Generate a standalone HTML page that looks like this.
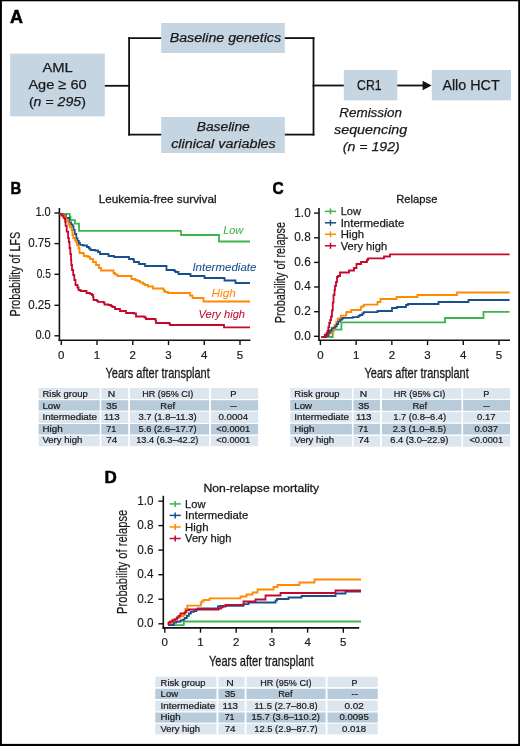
<!DOCTYPE html><html><head><meta charset="utf-8"><style>html,body{margin:0;padding:0;background:#fff;}svg{display:block;will-change:transform;}text{font-family:"Liberation Sans", sans-serif;}</style></head><body>
<svg width="520" height="746" viewBox="0 0 520 746">
<rect x="0.00" y="0.00" width="520.00" height="746.00" fill="#ffffff"/>
<text x="10.00" y="22.60" font-size="17.60" fill="#000" font-weight="bold" font-style="normal" stroke="#000" stroke-width="0.50" textLength="13.00" lengthAdjust="spacingAndGlyphs">A</text>
<rect x="10.20" y="53.60" width="94.60" height="62.70" fill="#c6d5e2"/>
<rect x="161.20" y="23.00" width="123.60" height="30.00" fill="#c6d5e2"/>
<rect x="161.20" y="117.00" width="123.60" height="36.00" fill="#c6d5e2"/>
<rect x="343.80" y="70.00" width="53.50" height="30.30" fill="#c6d5e2"/>
<rect x="431.80" y="70.00" width="79.20" height="30.30" fill="#c6d5e2"/>
<line x1="104.80" y1="85.80" x2="129.10" y2="85.80" stroke="#111" stroke-width="1.80"/>
<line x1="129.10" y1="37.20" x2="129.10" y2="135.50" stroke="#111" stroke-width="1.80"/>
<line x1="128.20" y1="38.10" x2="161.20" y2="38.10" stroke="#111" stroke-width="1.80"/>
<line x1="128.20" y1="134.60" x2="161.20" y2="134.60" stroke="#111" stroke-width="1.80"/>
<line x1="284.80" y1="38.10" x2="314.40" y2="38.10" stroke="#111" stroke-width="1.80"/>
<line x1="284.80" y1="134.60" x2="314.40" y2="134.60" stroke="#111" stroke-width="1.80"/>
<line x1="313.50" y1="37.20" x2="313.50" y2="135.50" stroke="#111" stroke-width="1.80"/>
<line x1="312.60" y1="85.50" x2="343.80" y2="85.50" stroke="#111" stroke-width="1.80"/>
<line x1="397.30" y1="85.50" x2="424.00" y2="85.50" stroke="#111" stroke-width="1.80"/>
<path d="M422.6,80.8 L431.6,85.5 L422.6,90.2 Z" fill="#111"/>
<text x="42.40" y="72.20" font-size="13.70" fill="#1a1a1a" font-weight="normal" font-style="normal" stroke="#1a1a1a" stroke-width="0.25" textLength="30.40" lengthAdjust="spacingAndGlyphs">AML</text>
<text x="28.40" y="89.40" font-size="13.70" fill="#1a1a1a" font-weight="normal" font-style="normal" stroke="#1a1a1a" stroke-width="0.25" textLength="58.20" lengthAdjust="spacingAndGlyphs">Age ≥ 60</text>
<text x="28.9" y="105.8" font-size="13.7" stroke="#1a1a1a" stroke-width="0.25" fill="#1a1a1a" textLength="57" lengthAdjust="spacingAndGlyphs">(<tspan font-style="italic">n</tspan> = <tspan font-style="italic">295</tspan>)</text>
<text x="169.70" y="42.20" font-size="13.70" fill="#1a1a1a" font-weight="normal" font-style="italic" stroke="#1a1a1a" stroke-width="0.25" textLength="111.40" lengthAdjust="spacingAndGlyphs">Baseline genetics</text>
<text x="196.70" y="130.60" font-size="13.70" fill="#1a1a1a" font-weight="normal" font-style="italic" stroke="#1a1a1a" stroke-width="0.25" textLength="53.10" lengthAdjust="spacingAndGlyphs">Baseline</text>
<text x="171.20" y="147.50" font-size="13.70" fill="#1a1a1a" font-weight="normal" font-style="italic" stroke="#1a1a1a" stroke-width="0.25" textLength="104.60" lengthAdjust="spacingAndGlyphs">clinical variables</text>
<text x="357.00" y="89.50" font-size="14.30" fill="#1a1a1a" font-weight="normal" font-style="normal" stroke="#1a1a1a" stroke-width="0.25" textLength="24.60" lengthAdjust="spacingAndGlyphs">CR1</text>
<text x="442.40" y="89.50" font-size="14.30" fill="#1a1a1a" font-weight="normal" font-style="normal" stroke="#1a1a1a" stroke-width="0.25" textLength="57.30" lengthAdjust="spacingAndGlyphs">Allo HCT</text>
<text x="339.20" y="117.20" font-size="13.70" fill="#1a1a1a" font-weight="normal" font-style="italic" stroke="#1a1a1a" stroke-width="0.25" textLength="62.90" lengthAdjust="spacingAndGlyphs">Remission</text>
<text x="334.00" y="133.60" font-size="13.70" fill="#1a1a1a" font-weight="normal" font-style="italic" stroke="#1a1a1a" stroke-width="0.25" textLength="73.30" lengthAdjust="spacingAndGlyphs">sequencing</text>
<text x="342.8" y="151.2" font-size="13.7" stroke="#1a1a1a" stroke-width="0.25" fill="#1a1a1a" font-style="italic" textLength="57" lengthAdjust="spacingAndGlyphs">(n = 192)</text>
<text x="10.50" y="193.80" font-size="16.80" fill="#000" font-weight="bold" font-style="normal" stroke="#000" stroke-width="0.50" textLength="10.80" lengthAdjust="spacingAndGlyphs">B</text>
<text x="98.70" y="203.00" font-size="11.80" fill="#1a1a1a" font-weight="normal" font-style="normal" stroke="#1a1a1a" stroke-width="0.30" textLength="117.90" lengthAdjust="spacingAndGlyphs">Leukemia-free survival</text>
<line x1="59.40" y1="208.00" x2="59.40" y2="341.10" stroke="#111" stroke-width="1.60"/>
<line x1="54.50" y1="213.00" x2="59.40" y2="213.00" stroke="#111" stroke-width="1.40"/>
<line x1="54.50" y1="243.60" x2="59.40" y2="243.60" stroke="#111" stroke-width="1.40"/>
<line x1="54.50" y1="274.30" x2="59.40" y2="274.30" stroke="#111" stroke-width="1.40"/>
<line x1="54.50" y1="305.30" x2="59.40" y2="305.30" stroke="#111" stroke-width="1.40"/>
<line x1="54.50" y1="335.80" x2="59.40" y2="335.80" stroke="#111" stroke-width="1.40"/>
<line x1="58.60" y1="340.30" x2="250.50" y2="340.30" stroke="#111" stroke-width="1.60"/>
<line x1="61.30" y1="340.30" x2="61.30" y2="345.10" stroke="#111" stroke-width="1.40"/>
<line x1="97.04" y1="340.30" x2="97.04" y2="345.10" stroke="#111" stroke-width="1.40"/>
<line x1="132.78" y1="340.30" x2="132.78" y2="345.10" stroke="#111" stroke-width="1.40"/>
<line x1="168.52" y1="340.30" x2="168.52" y2="345.10" stroke="#111" stroke-width="1.40"/>
<line x1="204.26" y1="340.30" x2="204.26" y2="345.10" stroke="#111" stroke-width="1.40"/>
<line x1="240.00" y1="340.30" x2="240.00" y2="345.10" stroke="#111" stroke-width="1.40"/>
<text x="35.40" y="216.40" font-size="12.20" fill="#1a1a1a" font-weight="normal" font-style="normal" stroke="#1a1a1a" stroke-width="0.15" textLength="15.40" lengthAdjust="spacingAndGlyphs">1.0</text>
<text x="28.20" y="247.00" font-size="12.20" fill="#1a1a1a" font-weight="normal" font-style="normal" stroke="#1a1a1a" stroke-width="0.15" textLength="22.60" lengthAdjust="spacingAndGlyphs">0.75</text>
<text x="36.70" y="277.70" font-size="12.20" fill="#1a1a1a" font-weight="normal" font-style="normal" stroke="#1a1a1a" stroke-width="0.15" textLength="14.10" lengthAdjust="spacingAndGlyphs">0.5</text>
<text x="28.20" y="308.70" font-size="12.20" fill="#1a1a1a" font-weight="normal" font-style="normal" stroke="#1a1a1a" stroke-width="0.15" textLength="22.60" lengthAdjust="spacingAndGlyphs">0.25</text>
<text x="35.40" y="339.20" font-size="12.20" fill="#1a1a1a" font-weight="normal" font-style="normal" stroke="#1a1a1a" stroke-width="0.15" textLength="15.40" lengthAdjust="spacingAndGlyphs">0.0</text>
<text x="61.30" y="358.70" font-size="11.50" fill="#1a1a1a" text-anchor="middle" stroke="#1a1a1a" stroke-width="0.20">0</text>
<text x="97.04" y="358.70" font-size="11.50" fill="#1a1a1a" text-anchor="middle" stroke="#1a1a1a" stroke-width="0.20">1</text>
<text x="132.78" y="358.70" font-size="11.50" fill="#1a1a1a" text-anchor="middle" stroke="#1a1a1a" stroke-width="0.20">2</text>
<text x="168.52" y="358.70" font-size="11.50" fill="#1a1a1a" text-anchor="middle" stroke="#1a1a1a" stroke-width="0.20">3</text>
<text x="204.26" y="358.70" font-size="11.50" fill="#1a1a1a" text-anchor="middle" stroke="#1a1a1a" stroke-width="0.20">4</text>
<text x="240.00" y="358.70" font-size="11.50" fill="#1a1a1a" text-anchor="middle" stroke="#1a1a1a" stroke-width="0.20">5</text>
<text x="105.50" y="378.00" font-size="14.20" fill="#1a1a1a" font-weight="normal" font-style="normal" stroke="#1a1a1a" stroke-width="0.30" textLength="104.30" lengthAdjust="spacingAndGlyphs">Years after transplant</text>
<text transform="translate(20.10,316.50) rotate(-90)" x="0" y="0" font-size="14.20" fill="#1a1a1a" stroke="#1a1a1a" stroke-width="0.20" textLength="84.60" lengthAdjust="spacingAndGlyphs">Probability of LFS</text>
<path d="M59.80,213.80H69.80 V217.00H70.50 V220.20H75.00 V223.70H79.00 V230.90H181.00 V235.00H219.00 V241.50H250.00" fill="none" stroke="#3fb34f" stroke-width="1.80" />
<path d="M59.80,213.80H63.00 V215.50H66.00 V218.00H69.30 V222.40H71.00 V224.50H72.70 V226.50H73.50 V229.90H74.80 V234.00H76.30 V238.50H77.50 V241.00H78.80 V243.00H80.00 V244.80H83.00 V245.50H87.00 V247.00H89.00 V248.50H90.50 V250.00H95.00 V250.50H98.00 V252.00H100.00 V254.00H108.50 V256.00H114.00 V257.00H129.00 V259.00H133.50 V260.00H134.00 V262.00H139.00 V264.00H145.00 V266.00H166.50 V270.00H174.50 V271.00H175.50 V272.00H178.50 V274.00H190.50 V276.00H204.50 V278.00H224.50 V280.50H235.50 V283.00H250.00" fill="none" stroke="#17508c" stroke-width="1.80" />
<path d="M59.80,213.80H61.50 V214.50H63.50 V216.00H65.00 V218.00H66.00 V219.50H67.00 V221.00H68.40 V224.40H69.80 V227.00H71.60 V229.90H72.40 V235.10H73.30 V238.00H75.00 V240.00H76.00 V242.00H77.00 V245.00H78.50 V248.00H79.50 V253.00H83.50 V254.00H84.00 V256.00H88.00 V257.00H90.00 V259.00H93.00 V262.00H96.00 V265.00H99.00 V268.00H101.00 V270.50H113.50 V273.00H115.00 V274.50H117.50 V276.00H131.50 V279.00H135.00 V280.00H137.50 V281.00H140.00 V282.50H143.00 V284.00H145.00 V285.00H148.00 V286.50H153.00 V288.50H163.50 V290.50H165.00 V292.00H168.00 V293.00H190.00 V295.50H192.50 V298.00H203.50 V301.50H250.00" fill="none" stroke="#ff8a00" stroke-width="1.80" />
<path d="M59.80,213.80H61.50 V215.50H63.50 V217.80H64.90 V219.00H65.20 V222.00H65.60 V225.90H66.70 V231.70H68.10 V238.00H68.80 V242.00H69.50 V248.00H70.30 V254.00H71.00 V260.00H71.30 V265.00H72.00 V270.00H73.20 V275.00H74.30 V280.00H75.50 V285.00H77.50 V287.50H78.50 V290.00H80.50 V291.00H86.50 V293.00H90.00 V293.80H92.00 V295.00H93.00 V297.00H93.50 V300.00H97.00 V300.80H98.00 V301.80H103.50 V302.50H104.50 V304.50H108.50 V305.00H111.00 V306.00H112.50 V307.00H115.00 V309.00H120.00 V311.00H126.00 V313.00H134.00 V313.50H136.00 V316.50H144.50 V317.50H146.00 V319.00H155.50 V320.50H156.00 V323.00H169.50 V324.00H170.00 V325.00H224.00 V327.30H250.00" fill="none" stroke="#c30a2c" stroke-width="1.80" />
<text x="223.20" y="233.80" font-size="10.60" fill="#3fb34f" font-weight="normal" font-style="italic" stroke="#3fb34f" stroke-width="0.05" textLength="20.10" lengthAdjust="spacingAndGlyphs">Low</text>
<text x="192.40" y="270.80" font-size="10.60" fill="#17508c" font-weight="normal" font-style="italic" stroke="#17508c" stroke-width="0.05" textLength="64.00" lengthAdjust="spacingAndGlyphs">Intermediate</text>
<text x="211.60" y="297.00" font-size="10.60" fill="#ff8a00" font-weight="normal" font-style="italic" stroke="#ff8a00" stroke-width="0.05" textLength="24.20" lengthAdjust="spacingAndGlyphs">High</text>
<text x="198.50" y="318.40" font-size="10.60" fill="#c30a2c" font-weight="normal" font-style="italic" stroke="#c30a2c" stroke-width="0.05" textLength="46.50" lengthAdjust="spacingAndGlyphs">Very high</text>
<text x="272.50" y="193.60" font-size="17.20" fill="#000" font-weight="bold" font-style="normal" stroke="#000" stroke-width="0.50" textLength="11.20" lengthAdjust="spacingAndGlyphs">C</text>
<text x="396.20" y="202.90" font-size="11.80" fill="#1a1a1a" font-weight="normal" font-style="normal" stroke="#1a1a1a" stroke-width="0.30" textLength="41.20" lengthAdjust="spacingAndGlyphs">Relapse</text>
<line x1="319.00" y1="208.00" x2="319.00" y2="341.10" stroke="#111" stroke-width="1.60"/>
<line x1="314.10" y1="213.10" x2="319.00" y2="213.10" stroke="#111" stroke-width="1.40"/>
<line x1="314.10" y1="237.80" x2="319.00" y2="237.80" stroke="#111" stroke-width="1.40"/>
<line x1="314.10" y1="262.40" x2="319.00" y2="262.40" stroke="#111" stroke-width="1.40"/>
<line x1="314.10" y1="287.00" x2="319.00" y2="287.00" stroke="#111" stroke-width="1.40"/>
<line x1="314.10" y1="311.70" x2="319.00" y2="311.70" stroke="#111" stroke-width="1.40"/>
<line x1="314.10" y1="336.30" x2="319.00" y2="336.30" stroke="#111" stroke-width="1.40"/>
<line x1="318.20" y1="340.30" x2="510.00" y2="340.30" stroke="#111" stroke-width="1.60"/>
<line x1="320.40" y1="340.30" x2="320.40" y2="345.10" stroke="#111" stroke-width="1.40"/>
<line x1="356.12" y1="340.30" x2="356.12" y2="345.10" stroke="#111" stroke-width="1.40"/>
<line x1="391.84" y1="340.30" x2="391.84" y2="345.10" stroke="#111" stroke-width="1.40"/>
<line x1="427.56" y1="340.30" x2="427.56" y2="345.10" stroke="#111" stroke-width="1.40"/>
<line x1="463.28" y1="340.30" x2="463.28" y2="345.10" stroke="#111" stroke-width="1.40"/>
<line x1="499.00" y1="340.30" x2="499.00" y2="345.10" stroke="#111" stroke-width="1.40"/>
<text x="294.30" y="216.50" font-size="12.20" fill="#1a1a1a" font-weight="normal" font-style="normal" stroke="#1a1a1a" stroke-width="0.15" textLength="16.40" lengthAdjust="spacingAndGlyphs">1.0</text>
<text x="294.30" y="241.20" font-size="12.20" fill="#1a1a1a" font-weight="normal" font-style="normal" stroke="#1a1a1a" stroke-width="0.15" textLength="16.40" lengthAdjust="spacingAndGlyphs">0.8</text>
<text x="294.30" y="265.80" font-size="12.20" fill="#1a1a1a" font-weight="normal" font-style="normal" stroke="#1a1a1a" stroke-width="0.15" textLength="16.40" lengthAdjust="spacingAndGlyphs">0.6</text>
<text x="294.30" y="290.40" font-size="12.20" fill="#1a1a1a" font-weight="normal" font-style="normal" stroke="#1a1a1a" stroke-width="0.15" textLength="16.40" lengthAdjust="spacingAndGlyphs">0.4</text>
<text x="294.30" y="315.10" font-size="12.20" fill="#1a1a1a" font-weight="normal" font-style="normal" stroke="#1a1a1a" stroke-width="0.15" textLength="16.40" lengthAdjust="spacingAndGlyphs">0.2</text>
<text x="294.30" y="339.70" font-size="12.20" fill="#1a1a1a" font-weight="normal" font-style="normal" stroke="#1a1a1a" stroke-width="0.15" textLength="16.40" lengthAdjust="spacingAndGlyphs">0.0</text>
<text x="320.40" y="358.70" font-size="11.50" fill="#1a1a1a" text-anchor="middle" stroke="#1a1a1a" stroke-width="0.20">0</text>
<text x="356.12" y="358.70" font-size="11.50" fill="#1a1a1a" text-anchor="middle" stroke="#1a1a1a" stroke-width="0.20">1</text>
<text x="391.84" y="358.70" font-size="11.50" fill="#1a1a1a" text-anchor="middle" stroke="#1a1a1a" stroke-width="0.20">2</text>
<text x="427.56" y="358.70" font-size="11.50" fill="#1a1a1a" text-anchor="middle" stroke="#1a1a1a" stroke-width="0.20">3</text>
<text x="463.28" y="358.70" font-size="11.50" fill="#1a1a1a" text-anchor="middle" stroke="#1a1a1a" stroke-width="0.20">4</text>
<text x="499.00" y="358.70" font-size="11.50" fill="#1a1a1a" text-anchor="middle" stroke="#1a1a1a" stroke-width="0.20">5</text>
<text x="364.50" y="378.00" font-size="14.20" fill="#1a1a1a" font-weight="normal" font-style="normal" stroke="#1a1a1a" stroke-width="0.30" textLength="104.30" lengthAdjust="spacingAndGlyphs">Years after transplant</text>
<text transform="translate(284.60,323.20) rotate(-90)" x="0" y="0" font-size="14.20" fill="#1a1a1a" stroke="#1a1a1a" stroke-width="0.20" textLength="101.20" lengthAdjust="spacingAndGlyphs">Probability of relapse</text>
<line x1="324.90" y1="211.40" x2="336.10" y2="211.40" stroke="#3fb34f" stroke-width="1.50"/>
<line x1="330.50" y1="208.40" x2="330.50" y2="214.40" stroke="#3fb34f" stroke-width="1.50"/>
<text x="340.70" y="215.10" font-size="11.00" fill="#1a1a1a" font-weight="normal" font-style="normal" stroke="#1a1a1a" stroke-width="0.25" textLength="20.30" lengthAdjust="spacingAndGlyphs">Low</text>
<line x1="324.90" y1="222.80" x2="336.10" y2="222.80" stroke="#17508c" stroke-width="1.50"/>
<line x1="330.50" y1="219.80" x2="330.50" y2="225.80" stroke="#17508c" stroke-width="1.50"/>
<text x="340.70" y="226.50" font-size="11.00" fill="#1a1a1a" font-weight="normal" font-style="normal" stroke="#1a1a1a" stroke-width="0.25" textLength="63.60" lengthAdjust="spacingAndGlyphs">Intermediate</text>
<line x1="324.90" y1="234.30" x2="336.10" y2="234.30" stroke="#ff8a00" stroke-width="1.50"/>
<line x1="330.50" y1="231.30" x2="330.50" y2="237.30" stroke="#ff8a00" stroke-width="1.50"/>
<text x="340.70" y="238.00" font-size="11.00" fill="#1a1a1a" font-weight="normal" font-style="normal" stroke="#1a1a1a" stroke-width="0.25" textLength="23.40" lengthAdjust="spacingAndGlyphs">High</text>
<line x1="324.90" y1="245.80" x2="336.10" y2="245.80" stroke="#c30a2c" stroke-width="1.50"/>
<line x1="330.50" y1="242.80" x2="330.50" y2="248.80" stroke="#c30a2c" stroke-width="1.50"/>
<text x="340.70" y="249.50" font-size="11.00" fill="#1a1a1a" font-weight="normal" font-style="normal" stroke="#1a1a1a" stroke-width="0.25" textLength="46.40" lengthAdjust="spacingAndGlyphs">Very high</text>
<path d="M321.50,337.00H332.70 V331.80H333.50 V329.60H341.40 V322.40H445.00 V318.00H483.50 V311.90H509.60" fill="none" stroke="#3fb34f" stroke-width="1.80" />
<path d="M321.50,337.00H328.00 V335.00H329.40 V333.20H331.20 V331.80H333.00 V329.80H334.50 V325.00H336.30 V321.70H337.70 V318.50H340.80 V315.70H346.20 V313.00H346.60 V312.00H351.20 V310.00H360.80 V307.30H361.50 V306.50H363.80 V305.00H364.20 V304.60H377.50 V302.00H380.50 V299.00H396.50 V297.00H417.50 V295.00H457.00 V292.50H509.60" fill="none" stroke="#ff8a00" stroke-width="1.80" />
<path d="M321.50,337.00H326.00 V336.00H328.00 V332.80H329.80 V330.50H331.70 V328.20H333.50 V327.70H335.40 V326.30H336.80 V324.00H338.20 V321.70H340.00 V319.80H341.80 V318.50H343.00 V317.90H352.70 V317.20H358.50 V315.80H360.00 V315.00H362.30 V313.50H363.80 V312.10H377.50 V311.00H392.00 V308.00H397.00 V307.00H406.00 V305.00H408.00 V304.00H438.50 V302.00H468.50 V300.00H509.60" fill="none" stroke="#17508c" stroke-width="1.80" />
<path d="M321.50,337.00H324.80 V334.60H326.60 V333.00H327.50 V331.00H328.30 V327.20H329.20 V323.00H330.20 V320.00H331.00 V316.50H332.00 V310.40H332.80 V302.70H333.50 V295.00H334.50 V290.00H335.00 V286.00H336.00 V282.00H337.00 V277.00H338.00 V276.00H340.00 V272.50H349.00 V270.50H354.00 V268.00H356.50 V264.00H361.00 V262.00H367.00 V260.00H368.00 V258.40H384.00 V256.50H390.00 V254.40H509.60" fill="none" stroke="#c30a2c" stroke-width="1.80" />
<rect x="38.60" y="388.00" width="219.50" height="10.90" fill="#dde6ee"/>
<rect x="38.60" y="400.20" width="219.50" height="10.40" fill="#b8cbda"/>
<rect x="38.60" y="411.70" width="219.50" height="11.30" fill="#dde6ee"/>
<rect x="38.60" y="424.00" width="219.50" height="10.50" fill="#b8cbda"/>
<rect x="38.60" y="435.80" width="219.50" height="10.40" fill="#dde6ee"/>
<rect x="99.70" y="388.00" width="1.60" height="58.20" fill="#ffffff"/>
<rect x="128.20" y="388.00" width="1.80" height="58.20" fill="#ffffff"/>
<rect x="209.10" y="388.00" width="1.80" height="58.20" fill="#ffffff"/>
<text x="42.45" y="396.60" font-size="9.20" fill="#1a1a1a" font-weight="normal" font-style="normal" stroke="#1a1a1a" stroke-width="0.22" textLength="45.25" lengthAdjust="spacingAndGlyphs">Risk group</text>
<text x="107.80" y="396.60" font-size="9.20" fill="#1a1a1a" font-weight="normal" font-style="normal" stroke="#1a1a1a" stroke-width="0.22" textLength="7.50" lengthAdjust="spacingAndGlyphs">N</text>
<text x="142.20" y="396.60" font-size="9.20" fill="#1a1a1a" font-weight="normal" font-style="normal" stroke="#1a1a1a" stroke-width="0.22" textLength="51.20" lengthAdjust="spacingAndGlyphs">HR (95% CI)</text>
<text x="230.30" y="396.60" font-size="9.20" fill="#1a1a1a" font-weight="normal" font-style="normal" stroke="#1a1a1a" stroke-width="0.22" textLength="6.25" lengthAdjust="spacingAndGlyphs">P</text>
<text x="42.45" y="408.80" font-size="9.20" fill="#1a1a1a" font-weight="normal" font-style="normal" stroke="#1a1a1a" stroke-width="0.22" textLength="17.75" lengthAdjust="spacingAndGlyphs">Low</text>
<text x="106.20" y="408.80" font-size="9.20" fill="#1a1a1a" font-weight="normal" font-style="normal" stroke="#1a1a1a" stroke-width="0.22" textLength="11.00" lengthAdjust="spacingAndGlyphs">35</text>
<text x="160.30" y="408.80" font-size="9.20" fill="#1a1a1a" font-weight="normal" font-style="normal" stroke="#1a1a1a" stroke-width="0.22" textLength="14.75" lengthAdjust="spacingAndGlyphs">Ref</text>
<text x="230.30" y="408.80" font-size="9.20" fill="#1a1a1a" font-weight="normal" font-style="normal" stroke="#1a1a1a" stroke-width="0.22" textLength="6.60" lengthAdjust="spacingAndGlyphs">--</text>
<text x="42.45" y="420.40" font-size="9.20" fill="#1a1a1a" font-weight="normal" font-style="normal" stroke="#1a1a1a" stroke-width="0.22" textLength="54.60" lengthAdjust="spacingAndGlyphs">Intermediate</text>
<text x="104.10" y="420.40" font-size="9.20" fill="#1a1a1a" font-weight="normal" font-style="normal" stroke="#1a1a1a" stroke-width="0.22" textLength="15.60" lengthAdjust="spacingAndGlyphs">113</text>
<text x="138.45" y="420.40" font-size="9.20" fill="#1a1a1a" font-weight="normal" font-style="normal" stroke="#1a1a1a" stroke-width="0.22" textLength="58.10" lengthAdjust="spacingAndGlyphs">3.7 (1.8–11.3)</text>
<text x="218.45" y="420.40" font-size="9.20" fill="#1a1a1a" font-weight="normal" font-style="normal" stroke="#1a1a1a" stroke-width="0.22" textLength="29.60" lengthAdjust="spacingAndGlyphs">0.0004</text>
<text x="42.45" y="431.70" font-size="9.20" fill="#1a1a1a" font-weight="normal" font-style="normal" stroke="#1a1a1a" stroke-width="0.22" textLength="20.25" lengthAdjust="spacingAndGlyphs">High</text>
<text x="106.20" y="431.70" font-size="9.20" fill="#1a1a1a" font-weight="normal" font-style="normal" stroke="#1a1a1a" stroke-width="0.22" textLength="10.10" lengthAdjust="spacingAndGlyphs">71</text>
<text x="138.45" y="431.70" font-size="9.20" fill="#1a1a1a" font-weight="normal" font-style="normal" stroke="#1a1a1a" stroke-width="0.22" textLength="58.10" lengthAdjust="spacingAndGlyphs">5.6 (2.6–17.7)</text>
<text x="216.30" y="431.70" font-size="9.20" fill="#1a1a1a" font-weight="normal" font-style="normal" stroke="#1a1a1a" stroke-width="0.22" textLength="33.75" lengthAdjust="spacingAndGlyphs">&lt;0.0001</text>
<text x="42.45" y="443.00" font-size="9.20" fill="#1a1a1a" font-weight="normal" font-style="normal" stroke="#1a1a1a" stroke-width="0.22" textLength="39.85" lengthAdjust="spacingAndGlyphs">Very high</text>
<text x="106.20" y="443.00" font-size="9.20" fill="#1a1a1a" font-weight="normal" font-style="normal" stroke="#1a1a1a" stroke-width="0.22" textLength="11.00" lengthAdjust="spacingAndGlyphs">74</text>
<text x="136.20" y="443.00" font-size="9.20" fill="#1a1a1a" font-weight="normal" font-style="normal" stroke="#1a1a1a" stroke-width="0.22" textLength="62.20" lengthAdjust="spacingAndGlyphs">13.4 (6.3–42.2)</text>
<text x="216.30" y="443.00" font-size="9.20" fill="#1a1a1a" font-weight="normal" font-style="normal" stroke="#1a1a1a" stroke-width="0.22" textLength="33.75" lengthAdjust="spacingAndGlyphs">&lt;0.0001</text>
<rect x="290.25" y="388.20" width="219.75" height="10.60" fill="#dde6ee"/>
<rect x="290.25" y="399.90" width="219.75" height="10.80" fill="#b8cbda"/>
<rect x="290.25" y="412.10" width="219.75" height="10.30" fill="#dde6ee"/>
<rect x="290.25" y="423.80" width="219.75" height="10.70" fill="#b8cbda"/>
<rect x="290.25" y="435.90" width="219.75" height="10.80" fill="#dde6ee"/>
<rect x="351.90" y="388.20" width="1.60" height="58.50" fill="#ffffff"/>
<rect x="380.00" y="388.20" width="1.90" height="58.50" fill="#ffffff"/>
<rect x="461.50" y="388.20" width="1.60" height="58.50" fill="#ffffff"/>
<text x="294.30" y="396.60" font-size="9.20" fill="#1a1a1a" font-weight="normal" font-style="normal" stroke="#1a1a1a" stroke-width="0.22" textLength="45.25" lengthAdjust="spacingAndGlyphs">Risk group</text>
<text x="359.70" y="396.60" font-size="9.20" fill="#1a1a1a" font-weight="normal" font-style="normal" stroke="#1a1a1a" stroke-width="0.22" textLength="7.50" lengthAdjust="spacingAndGlyphs">N</text>
<text x="393.70" y="396.60" font-size="9.20" fill="#1a1a1a" font-weight="normal" font-style="normal" stroke="#1a1a1a" stroke-width="0.22" textLength="51.50" lengthAdjust="spacingAndGlyphs">HR (95% CI)</text>
<text x="483.20" y="396.60" font-size="9.20" fill="#1a1a1a" font-weight="normal" font-style="normal" stroke="#1a1a1a" stroke-width="0.22" textLength="6.10" lengthAdjust="spacingAndGlyphs">P</text>
<text x="294.30" y="408.80" font-size="9.20" fill="#1a1a1a" font-weight="normal" font-style="normal" stroke="#1a1a1a" stroke-width="0.22" textLength="17.75" lengthAdjust="spacingAndGlyphs">Low</text>
<text x="358.20" y="408.80" font-size="9.20" fill="#1a1a1a" font-weight="normal" font-style="normal" stroke="#1a1a1a" stroke-width="0.22" textLength="11.10" lengthAdjust="spacingAndGlyphs">35</text>
<text x="412.45" y="408.80" font-size="9.20" fill="#1a1a1a" font-weight="normal" font-style="normal" stroke="#1a1a1a" stroke-width="0.22" textLength="14.60" lengthAdjust="spacingAndGlyphs">Ref</text>
<text x="483.20" y="408.80" font-size="9.20" fill="#1a1a1a" font-weight="normal" font-style="normal" stroke="#1a1a1a" stroke-width="0.22" textLength="6.50" lengthAdjust="spacingAndGlyphs">--</text>
<text x="294.30" y="420.40" font-size="9.20" fill="#1a1a1a" font-weight="normal" font-style="normal" stroke="#1a1a1a" stroke-width="0.22" textLength="54.75" lengthAdjust="spacingAndGlyphs">Intermediate</text>
<text x="355.95" y="420.40" font-size="9.20" fill="#1a1a1a" font-weight="normal" font-style="normal" stroke="#1a1a1a" stroke-width="0.22" textLength="15.60" lengthAdjust="spacingAndGlyphs">113</text>
<text x="393.30" y="420.40" font-size="9.20" fill="#1a1a1a" font-weight="normal" font-style="normal" stroke="#1a1a1a" stroke-width="0.22" textLength="52.75" lengthAdjust="spacingAndGlyphs">1.7 (0.8–6.4)</text>
<text x="476.95" y="420.40" font-size="9.20" fill="#1a1a1a" font-weight="normal" font-style="normal" stroke="#1a1a1a" stroke-width="0.22" textLength="18.60" lengthAdjust="spacingAndGlyphs">0.17</text>
<text x="294.30" y="431.70" font-size="9.20" fill="#1a1a1a" font-weight="normal" font-style="normal" stroke="#1a1a1a" stroke-width="0.22" textLength="20.00" lengthAdjust="spacingAndGlyphs">High</text>
<text x="358.20" y="431.70" font-size="9.20" fill="#1a1a1a" font-weight="normal" font-style="normal" stroke="#1a1a1a" stroke-width="0.22" textLength="10.20" lengthAdjust="spacingAndGlyphs">71</text>
<text x="392.70" y="431.70" font-size="9.20" fill="#1a1a1a" font-weight="normal" font-style="normal" stroke="#1a1a1a" stroke-width="0.22" textLength="53.35" lengthAdjust="spacingAndGlyphs">2.3 (1.0–8.5)</text>
<text x="474.45" y="431.70" font-size="9.20" fill="#1a1a1a" font-weight="normal" font-style="normal" stroke="#1a1a1a" stroke-width="0.22" textLength="23.60" lengthAdjust="spacingAndGlyphs">0.037</text>
<text x="294.30" y="443.00" font-size="9.20" fill="#1a1a1a" font-weight="normal" font-style="normal" stroke="#1a1a1a" stroke-width="0.22" textLength="39.75" lengthAdjust="spacingAndGlyphs">Very high</text>
<text x="358.20" y="443.00" font-size="9.20" fill="#1a1a1a" font-weight="normal" font-style="normal" stroke="#1a1a1a" stroke-width="0.22" textLength="11.10" lengthAdjust="spacingAndGlyphs">74</text>
<text x="390.20" y="443.00" font-size="9.20" fill="#1a1a1a" font-weight="normal" font-style="normal" stroke="#1a1a1a" stroke-width="0.22" textLength="58.10" lengthAdjust="spacingAndGlyphs">6.4 (3.0–22.9)</text>
<text x="469.45" y="443.00" font-size="9.20" fill="#1a1a1a" font-weight="normal" font-style="normal" stroke="#1a1a1a" stroke-width="0.22" textLength="33.60" lengthAdjust="spacingAndGlyphs">&lt;0.0001</text>
<text x="104.60" y="483.00" font-size="16.80" fill="#000" font-weight="bold" font-style="normal" stroke="#000" stroke-width="0.50" textLength="12.30" lengthAdjust="spacingAndGlyphs">D</text>
<text x="203.40" y="491.50" font-size="11.80" fill="#1a1a1a" font-weight="normal" font-style="normal" stroke="#1a1a1a" stroke-width="0.30" textLength="115.70" lengthAdjust="spacingAndGlyphs">Non-relapse mortality</text>
<line x1="163.30" y1="495.80" x2="163.30" y2="628.70" stroke="#111" stroke-width="1.60"/>
<line x1="158.40" y1="501.20" x2="163.30" y2="501.20" stroke="#111" stroke-width="1.40"/>
<line x1="158.40" y1="525.60" x2="163.30" y2="525.60" stroke="#111" stroke-width="1.40"/>
<line x1="158.40" y1="550.10" x2="163.30" y2="550.10" stroke="#111" stroke-width="1.40"/>
<line x1="158.40" y1="574.70" x2="163.30" y2="574.70" stroke="#111" stroke-width="1.40"/>
<line x1="158.40" y1="599.20" x2="163.30" y2="599.20" stroke="#111" stroke-width="1.40"/>
<line x1="158.40" y1="623.80" x2="163.30" y2="623.80" stroke="#111" stroke-width="1.40"/>
<line x1="162.50" y1="627.90" x2="359.20" y2="627.90" stroke="#111" stroke-width="1.60"/>
<line x1="164.80" y1="627.90" x2="164.80" y2="632.70" stroke="#111" stroke-width="1.40"/>
<line x1="200.50" y1="627.90" x2="200.50" y2="632.70" stroke="#111" stroke-width="1.40"/>
<line x1="236.20" y1="627.90" x2="236.20" y2="632.70" stroke="#111" stroke-width="1.40"/>
<line x1="271.90" y1="627.90" x2="271.90" y2="632.70" stroke="#111" stroke-width="1.40"/>
<line x1="307.60" y1="627.90" x2="307.60" y2="632.70" stroke="#111" stroke-width="1.40"/>
<line x1="343.30" y1="627.90" x2="343.30" y2="632.70" stroke="#111" stroke-width="1.40"/>
<text x="137.20" y="504.60" font-size="12.20" fill="#1a1a1a" font-weight="normal" font-style="normal" stroke="#1a1a1a" stroke-width="0.15" textLength="16.30" lengthAdjust="spacingAndGlyphs">1.0</text>
<text x="137.20" y="529.00" font-size="12.20" fill="#1a1a1a" font-weight="normal" font-style="normal" stroke="#1a1a1a" stroke-width="0.15" textLength="16.30" lengthAdjust="spacingAndGlyphs">0.8</text>
<text x="137.20" y="553.50" font-size="12.20" fill="#1a1a1a" font-weight="normal" font-style="normal" stroke="#1a1a1a" stroke-width="0.15" textLength="16.30" lengthAdjust="spacingAndGlyphs">0.6</text>
<text x="137.20" y="578.10" font-size="12.20" fill="#1a1a1a" font-weight="normal" font-style="normal" stroke="#1a1a1a" stroke-width="0.15" textLength="16.30" lengthAdjust="spacingAndGlyphs">0.4</text>
<text x="137.20" y="602.60" font-size="12.20" fill="#1a1a1a" font-weight="normal" font-style="normal" stroke="#1a1a1a" stroke-width="0.15" textLength="16.30" lengthAdjust="spacingAndGlyphs">0.2</text>
<text x="137.20" y="627.20" font-size="12.20" fill="#1a1a1a" font-weight="normal" font-style="normal" stroke="#1a1a1a" stroke-width="0.15" textLength="16.30" lengthAdjust="spacingAndGlyphs">0.0</text>
<text x="164.80" y="646.30" font-size="11.50" fill="#1a1a1a" text-anchor="middle" stroke="#1a1a1a" stroke-width="0.20">0</text>
<text x="200.50" y="646.30" font-size="11.50" fill="#1a1a1a" text-anchor="middle" stroke="#1a1a1a" stroke-width="0.20">1</text>
<text x="236.20" y="646.30" font-size="11.50" fill="#1a1a1a" text-anchor="middle" stroke="#1a1a1a" stroke-width="0.20">2</text>
<text x="271.90" y="646.30" font-size="11.50" fill="#1a1a1a" text-anchor="middle" stroke="#1a1a1a" stroke-width="0.20">3</text>
<text x="307.60" y="646.30" font-size="11.50" fill="#1a1a1a" text-anchor="middle" stroke="#1a1a1a" stroke-width="0.20">4</text>
<text x="343.30" y="646.30" font-size="11.50" fill="#1a1a1a" text-anchor="middle" stroke="#1a1a1a" stroke-width="0.20">5</text>
<text x="208.90" y="665.90" font-size="14.20" fill="#1a1a1a" font-weight="normal" font-style="normal" stroke="#1a1a1a" stroke-width="0.30" textLength="104.60" lengthAdjust="spacingAndGlyphs">Years after transplant</text>
<text transform="translate(127.40,614.00) rotate(-90)" x="0" y="0" font-size="14.20" fill="#1a1a1a" stroke="#1a1a1a" stroke-width="0.20" textLength="104.30" lengthAdjust="spacingAndGlyphs">Probability of relapse</text>
<line x1="169.60" y1="503.90" x2="180.80" y2="503.90" stroke="#3fb34f" stroke-width="1.50"/>
<line x1="175.20" y1="500.90" x2="175.20" y2="506.90" stroke="#3fb34f" stroke-width="1.50"/>
<text x="185.10" y="507.60" font-size="11.00" fill="#1a1a1a" font-weight="normal" font-style="normal" stroke="#1a1a1a" stroke-width="0.25" textLength="20.30" lengthAdjust="spacingAndGlyphs">Low</text>
<line x1="169.60" y1="515.40" x2="180.80" y2="515.40" stroke="#17508c" stroke-width="1.50"/>
<line x1="175.20" y1="512.40" x2="175.20" y2="518.40" stroke="#17508c" stroke-width="1.50"/>
<text x="185.10" y="519.10" font-size="11.00" fill="#1a1a1a" font-weight="normal" font-style="normal" stroke="#1a1a1a" stroke-width="0.25" textLength="63.20" lengthAdjust="spacingAndGlyphs">Intermediate</text>
<line x1="169.60" y1="527.00" x2="180.80" y2="527.00" stroke="#ff8a00" stroke-width="1.50"/>
<line x1="175.20" y1="524.00" x2="175.20" y2="530.00" stroke="#ff8a00" stroke-width="1.50"/>
<text x="185.10" y="530.70" font-size="11.00" fill="#1a1a1a" font-weight="normal" font-style="normal" stroke="#1a1a1a" stroke-width="0.25" textLength="23.40" lengthAdjust="spacingAndGlyphs">High</text>
<line x1="169.60" y1="538.50" x2="180.80" y2="538.50" stroke="#c30a2c" stroke-width="1.50"/>
<line x1="175.20" y1="535.50" x2="175.20" y2="541.50" stroke="#c30a2c" stroke-width="1.50"/>
<text x="185.10" y="542.20" font-size="11.00" fill="#1a1a1a" font-weight="normal" font-style="normal" stroke="#1a1a1a" stroke-width="0.25" textLength="46.40" lengthAdjust="spacingAndGlyphs">Very high</text>
<path d="M168.00,625.20H183.80 V621.50H361.00" fill="none" stroke="#3fb34f" stroke-width="1.80" />
<path d="M168.00,625.20H170.00 V623.50H171.50 V622.50H172.30 V619.60H174.60 V619.00H176.50 V617.70H180.40 V616.20H183.00 V615.40H184.60 V613.50H185.40 V608.80H187.30 V605.60H200.80 V603.50H201.50 V601.50H203.50 V600.00H209.50 V598.40H240.50 V596.50H246.50 V594.50H252.50 V592.50H257.50 V589.50H273.50 V587.00H277.50 V585.00H299.50 V582.50H314.50 V579.50H361.00" fill="none" stroke="#ff8a00" stroke-width="1.80" />
<path d="M168.00,625.20H171.50 V625.00H173.80 V622.70H176.20 V621.90H178.50 V621.50H180.80 V620.40H183.00 V619.60H184.60 V618.00H186.90 V615.80H188.80 V613.50H190.80 V611.90H193.80 V611.20H196.20 V609.60H197.70 V608.30H218.00 V606.50H219.60 V605.80H243.50 V604.20H248.50 V602.50H275.50 V600.50H277.00 V599.00H288.50 V597.50H301.50 V596.00H335.50 V593.50H345.50 V591.50H361.00" fill="none" stroke="#17508c" stroke-width="1.80" />
<path d="M168.00,625.20H168.50 V622.50H170.00 V621.50H172.50 V620.50H175.00 V619.50H177.00 V617.50H178.50 V615.80H180.40 V613.50H184.60 V612.30H186.20 V610.40H188.80 V609.50H218.50 V608.50H221.00 V607.30H222.70 V606.50H225.50 V604.80H243.50 V601.50H255.50 V599.50H265.50 V595.50H280.50 V593.00H335.50 V590.50H361.00" fill="none" stroke="#c30a2c" stroke-width="1.80" />
<rect x="155.25" y="676.75" width="222.50" height="10.35" fill="#dde6ee"/>
<rect x="155.25" y="688.75" width="222.50" height="10.25" fill="#b8cbda"/>
<rect x="155.25" y="700.60" width="222.50" height="10.65" fill="#dde6ee"/>
<rect x="155.25" y="712.50" width="222.50" height="10.10" fill="#b8cbda"/>
<rect x="155.25" y="723.75" width="222.50" height="10.65" fill="#dde6ee"/>
<rect x="216.50" y="676.75" width="1.90" height="57.65" fill="#ffffff"/>
<rect x="244.60" y="676.75" width="1.90" height="57.65" fill="#ffffff"/>
<rect x="325.60" y="676.75" width="1.90" height="57.65" fill="#ffffff"/>
<text x="160.60" y="685.50" font-size="9.20" fill="#1a1a1a" font-weight="normal" font-style="normal" stroke="#1a1a1a" stroke-width="0.22" textLength="44.95" lengthAdjust="spacingAndGlyphs">Risk group</text>
<text x="226.20" y="685.50" font-size="9.20" fill="#1a1a1a" font-weight="normal" font-style="normal" stroke="#1a1a1a" stroke-width="0.22" textLength="7.50" lengthAdjust="spacingAndGlyphs">N</text>
<text x="260.20" y="685.50" font-size="9.20" fill="#1a1a1a" font-weight="normal" font-style="normal" stroke="#1a1a1a" stroke-width="0.22" textLength="51.30" lengthAdjust="spacingAndGlyphs">HR (95% CI)</text>
<text x="351.60" y="685.50" font-size="9.20" fill="#1a1a1a" font-weight="normal" font-style="normal" stroke="#1a1a1a" stroke-width="0.22" textLength="5.95" lengthAdjust="spacingAndGlyphs">P</text>
<text x="160.60" y="697.40" font-size="9.20" fill="#1a1a1a" font-weight="normal" font-style="normal" stroke="#1a1a1a" stroke-width="0.22" textLength="17.45" lengthAdjust="spacingAndGlyphs">Low</text>
<text x="224.70" y="697.40" font-size="9.20" fill="#1a1a1a" font-weight="normal" font-style="normal" stroke="#1a1a1a" stroke-width="0.22" textLength="10.85" lengthAdjust="spacingAndGlyphs">35</text>
<text x="278.20" y="697.40" font-size="9.20" fill="#1a1a1a" font-weight="normal" font-style="normal" stroke="#1a1a1a" stroke-width="0.22" textLength="14.40" lengthAdjust="spacingAndGlyphs">Ref</text>
<text x="351.60" y="697.40" font-size="9.20" fill="#1a1a1a" font-weight="normal" font-style="normal" stroke="#1a1a1a" stroke-width="0.22" textLength="6.20" lengthAdjust="spacingAndGlyphs">--</text>
<text x="160.60" y="709.00" font-size="9.20" fill="#1a1a1a" font-weight="normal" font-style="normal" stroke="#1a1a1a" stroke-width="0.22" textLength="54.70" lengthAdjust="spacingAndGlyphs">Intermediate</text>
<text x="222.45" y="709.00" font-size="9.20" fill="#1a1a1a" font-weight="normal" font-style="normal" stroke="#1a1a1a" stroke-width="0.22" textLength="15.60" lengthAdjust="spacingAndGlyphs">113</text>
<text x="254.30" y="709.00" font-size="9.20" fill="#1a1a1a" font-weight="normal" font-style="normal" stroke="#1a1a1a" stroke-width="0.22" textLength="63.40" lengthAdjust="spacingAndGlyphs">11.5 (2.7–80.8)</text>
<text x="344.45" y="709.00" font-size="9.20" fill="#1a1a1a" font-weight="normal" font-style="normal" stroke="#1a1a1a" stroke-width="0.22" textLength="19.35" lengthAdjust="spacingAndGlyphs">0.02</text>
<text x="160.60" y="720.40" font-size="9.20" fill="#1a1a1a" font-weight="normal" font-style="normal" stroke="#1a1a1a" stroke-width="0.22" textLength="19.95" lengthAdjust="spacingAndGlyphs">High</text>
<text x="224.70" y="720.40" font-size="9.20" fill="#1a1a1a" font-weight="normal" font-style="normal" stroke="#1a1a1a" stroke-width="0.22" textLength="9.85" lengthAdjust="spacingAndGlyphs">71</text>
<text x="251.50" y="720.40" font-size="9.20" fill="#1a1a1a" font-weight="normal" font-style="normal" stroke="#1a1a1a" stroke-width="0.22" textLength="68.30" lengthAdjust="spacingAndGlyphs">15.7 (3.6–110.2)</text>
<text x="339.45" y="720.40" font-size="9.20" fill="#1a1a1a" font-weight="normal" font-style="normal" stroke="#1a1a1a" stroke-width="0.22" textLength="29.35" lengthAdjust="spacingAndGlyphs">0.0095</text>
<text x="160.60" y="732.00" font-size="9.20" fill="#1a1a1a" font-weight="normal" font-style="normal" stroke="#1a1a1a" stroke-width="0.22" textLength="39.30" lengthAdjust="spacingAndGlyphs">Very high</text>
<text x="224.70" y="732.00" font-size="9.20" fill="#1a1a1a" font-weight="normal" font-style="normal" stroke="#1a1a1a" stroke-width="0.22" textLength="10.85" lengthAdjust="spacingAndGlyphs">74</text>
<text x="254.30" y="732.00" font-size="9.20" fill="#1a1a1a" font-weight="normal" font-style="normal" stroke="#1a1a1a" stroke-width="0.22" textLength="63.40" lengthAdjust="spacingAndGlyphs">12.5 (2.9–87.7)</text>
<text x="341.95" y="732.00" font-size="9.20" fill="#1a1a1a" font-weight="normal" font-style="normal" stroke="#1a1a1a" stroke-width="0.22" textLength="24.35" lengthAdjust="spacingAndGlyphs">0.018</text>
<rect x="0.00" y="0.00" width="520.00" height="1.30" fill="#000"/>
<rect x="0.00" y="0.00" width="1.90" height="746.00" fill="#000"/>
<rect x="518.20" y="0.00" width="1.80" height="746.00" fill="#000"/>
<rect x="0.00" y="743.90" width="520.00" height="2.10" fill="#000"/>
</svg></body></html>
